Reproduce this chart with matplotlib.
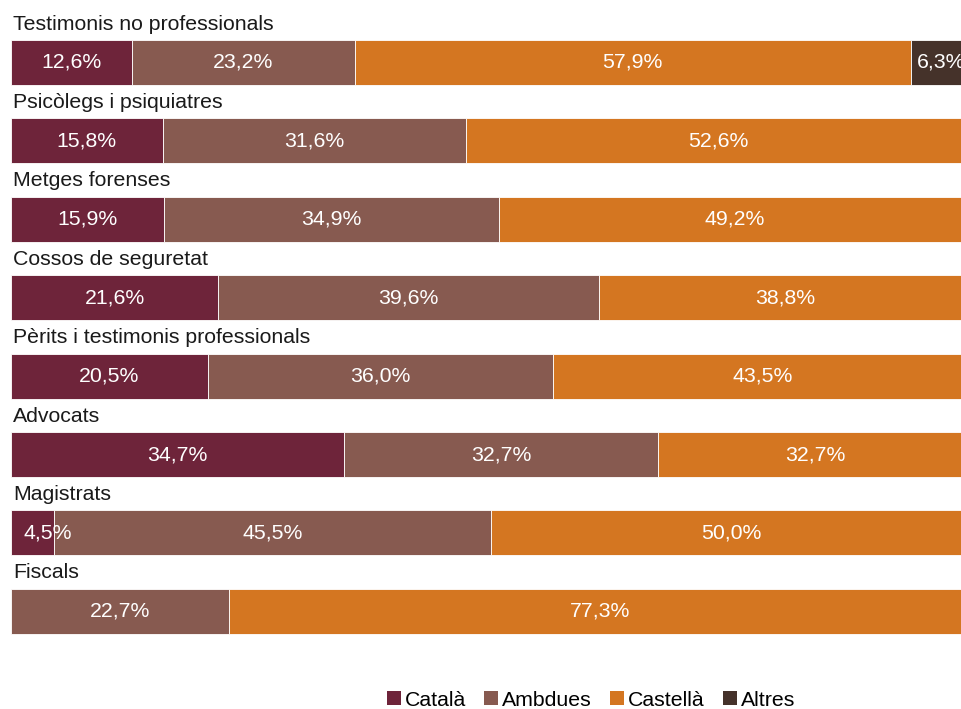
import matplotlib.pyplot as plt
from matplotlib.patches import Patch
import numpy as np

plt.rcParams["font.family"] = ["Liberation Sans", "DejaVu Sans"]

CATEGORIES = [
    "Testimonis no professionals",
    "Psicòlegs i psiquiatres",
    "Metges forenses",
    "Cossos de seguretat",
    "Pèrits i testimonis professionals",
    "Advocats",
    "Magistrats",
    "Fiscals",
]
SERIES = ["Català", "Ambdues", "Castellà", "Altres"]
COLORS = ["#6E243A", "#875A50", "#D47621", "#45322A"]

catala = [12.6, 15.8, 15.9, 21.6, 20.5, 34.7, 4.5, 0.0]
ambdues = [23.2, 31.6, 34.9, 39.6, 36.0, 32.7, 45.5, 22.7]
castella = [57.9, 52.6, 49.2, 38.8, 43.5, 32.7, 50.0, 77.3]
altres = [6.3, 0.0, 0.0, 0.0, 0.0, 0.0, 0.0, 0.0]

FS = 15.3


def pct(v):
    return f"{v:.1f}".replace(".", ",") + "%"


fig = plt.figure(figsize=(9.61, 7.09), dpi=100)
# the 100% scale runs slightly past the right edge of the canvas
ax = fig.add_axes([11 / 961, 0, 960 / 961, 1])

rows = np.arange(len(CATEGORIES))
left = np.zeros(len(CATEGORIES))
for name, vals, color in zip(SERIES, [catala, ambdues, castella, altres], COLORS):
    vals = np.array(vals)
    ax.barh(rows, vals, left=left, height=0.574, color=color,
            edgecolor="white", linewidth=0.6)
    for i, (v, l) in enumerate(zip(vals, left)):
        if v <= 0:
            continue
        if v < 5:
            ax.text(l + 1.35, i, pct(v), ha="left", va="center",
                    color="white", fontsize=FS)
        else:
            ax.text(l + v / 2, i, pct(v), ha="center", va="center",
                    color="white", fontsize=FS)
    left += vals

for i, cat in enumerate(CATEGORIES):
    ax.text(0.2, i - 0.49, cat, ha="left", va="center",
            color="#1a1a1a", fontsize=FS)

ax.set_xlim(0, 100)
ax.set_ylim(8.246, -0.797)
ax.axis("off")

handles = [Patch(facecolor=c, edgecolor="none", label=s) for s, c in zip(SERIES, COLORS)]
fig.legend(handles=handles, loc="center", bbox_to_anchor=(591 / 961, 1 - 700 / 709),
           ncol=4, frameon=False, fontsize=FS, handlelength=0.65, handleheight=0.65,
           handletextpad=0.2, columnspacing=0.85, borderaxespad=0, borderpad=0)

fig.savefig("out.png", dpi=100)
